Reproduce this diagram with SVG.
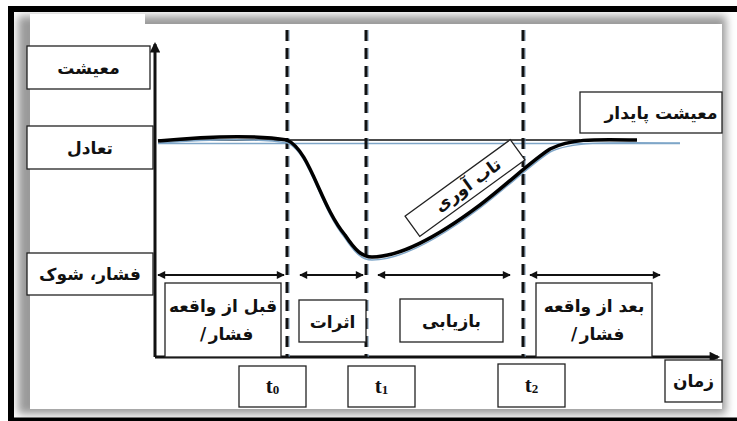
<svg xmlns="http://www.w3.org/2000/svg" width="737" height="421" viewBox="0 0 737 421">
<style>
.box{fill:#fff;stroke:#222;stroke-width:1.3}
.fa{font-family:"DejaVu Sans","Noto Sans",sans-serif;font-weight:bold;font-size:17px;fill:#111;text-anchor:middle}
.tt{font-family:"Liberation Serif",serif;font-weight:bold;font-size:21px;fill:#111;text-anchor:middle}
.dash{stroke:#111;stroke-width:3;stroke-dasharray:11 7;fill:none}
.dashb{stroke:#6b93b8;stroke-width:1;stroke-dasharray:11 7;fill:none}
.arr{stroke:#111;stroke-width:2;fill:none;marker-start:url(#ah);marker-end:url(#ah)}
</style>
<defs>
<marker id="ah" viewBox="0 0 10 10" refX="9" refY="5" markerWidth="5" markerHeight="4" orient="auto-start-reverse" markerUnits="strokeWidth">
<path d="M0,0 L10,5 L0,10 z" fill="#111"/>
</marker>
<marker id="ax" viewBox="0 0 10 10" refX="8" refY="5" markerWidth="4" markerHeight="3.5" orient="auto" markerUnits="strokeWidth">
<path d="M0,0 L10,5 L0,10 z" fill="#111"/>
</marker>
<filter id="sh" x="-5%" y="-5%" width="110%" height="110%">
<feGaussianBlur stdDeviation="4"/>
</filter>
</defs>
<rect width="737" height="421" fill="#fff"/>
<g id="panel">
<rect x="18" y="16" width="708" height="398" fill="#9a9a9a" filter="url(#sh)"/>
<rect x="30" y="24" width="692" height="385" fill="#fff"/>
<rect x="30" y="14" width="115" height="14" fill="#fff"/>
</g>
<g id="frame" fill="none" stroke="#000">
<line x1="8" y1="9" x2="737" y2="9" stroke-width="6"/>
<line x1="11" y1="6" x2="11" y2="421" stroke-width="6"/>
<line x1="8" y1="419.5" x2="737" y2="419.5" stroke-width="4"/>
</g>
<g id="connectors">
<line x1="155" y1="357" x2="155" y2="44" stroke="#111" stroke-width="3" marker-end="url(#ax)"/>
<line x1="155" y1="357" x2="718" y2="357" stroke="#111" stroke-width="3" marker-end="url(#ax)"/>
<line x1="158" y1="143.5" x2="680" y2="143.5" stroke="#7fa6c8" stroke-width="1.5"/>
<line x1="158" y1="140" x2="580" y2="140" stroke="#111" stroke-width="1.6"/>
<line x1="289" y1="30" x2="289" y2="357" class="dashb"/>
<line x1="287" y1="30" x2="287" y2="357" class="dash"/>
<line x1="368" y1="30" x2="368" y2="357" class="dashb"/>
<line x1="366" y1="30" x2="366" y2="357" class="dash"/>
<line x1="525" y1="30" x2="525" y2="357" class="dashb"/>
<line x1="523" y1="30" x2="523" y2="357" class="dash"/>
<path d="M160,143 C200,140 250,137 288,143 C310,153 320,208 345,238 C355,253 362,260 372,260 C400,260 440,238 480,208 C510,185 530,165 550,152 C570,142 600,142 680,143" stroke="#7fa6c8" stroke-width="1.5" fill="none"/>
<path d="M158,141 C200,137 250,134 287,140 C310,150 320,205 345,235 C355,250 362,257 372,257 C400,257 440,235 480,205 C510,182 530,162 550,149 C570,139 590,139 637,140" stroke="#000" stroke-width="3.5" fill="none"/>
<line x1="158" y1="275" x2="284" y2="275" class="arr"/>
<line x1="300" y1="275" x2="363" y2="275" class="arr"/>
<line x1="378" y1="275" x2="510" y2="275" class="arr"/>
<line x1="530" y1="275" x2="660" y2="275" class="arr"/>
</g>
<g id="n-maishat"><rect class="box" x="27" y="46" width="123" height="43"/><text class="fa" x="88.5" y="74">معیشت</text></g>
<g id="n-tadol"><rect class="box" x="27" y="126" width="126" height="43"/><text class="fa" x="90" y="154">تعادل</text></g>
<g id="n-feshar"><rect class="box" x="27" y="253" width="126" height="42"/><text class="fa" x="90" y="280">فشار، شوک</text></g>
<g id="n-paydar"><rect class="box" x="580" y="92" width="142" height="41"/><text class="fa" x="661" y="119">معیشت پایدار</text></g>
<g id="n-tabavari" transform="translate(465,188) rotate(-36)"><rect class="box" x="-65" y="-12.5" width="130" height="25"/><text class="fa" x="4" y="5" font-size="14">تاب آوری</text></g>
<g id="n-ghabl"><rect class="box" x="165" y="283" width="116" height="74"/><text class="fa" x="223" y="312">قبل از واقعه</text><text class="fa" x="203" y="340">/</text><text class="fa" x="231" y="340">فشار</text></g>
<g id="n-asarat"><rect class="box" x="299" y="300" width="67" height="42"/><text class="fa" x="332.5" y="328">اثرات</text></g>
<g id="n-bazyabi"><rect class="box" x="400" y="299" width="103" height="43"/><text class="fa" x="451.5" y="327">بازیابی</text></g>
<g id="n-baad"><rect class="box" x="536" y="283" width="116" height="74"/><text class="fa" x="594" y="312">بعد از واقعه</text><text class="fa" x="574" y="340">/</text><text class="fa" x="602" y="340">فشار</text></g>
<g id="n-t0"><rect class="box" x="239" y="366" width="67" height="41"/><text class="tt" x="272.5" y="393">t<tspan font-size="13" dy="1">0</tspan></text></g>
<g id="n-t1"><rect class="box" x="348" y="366" width="67" height="41"/><text class="tt" x="381.5" y="393">t<tspan font-size="13" dy="1">1</tspan></text></g>
<g id="n-t2"><rect class="box" x="498" y="364" width="67" height="43"/><text class="tt" x="531.5" y="392">t<tspan font-size="13" dy="1">2</tspan></text></g>
<g id="n-zaman"><rect class="box" x="665" y="360" width="57" height="42"/><text class="fa" x="693.5" y="387">زمان</text></g>
</svg>
